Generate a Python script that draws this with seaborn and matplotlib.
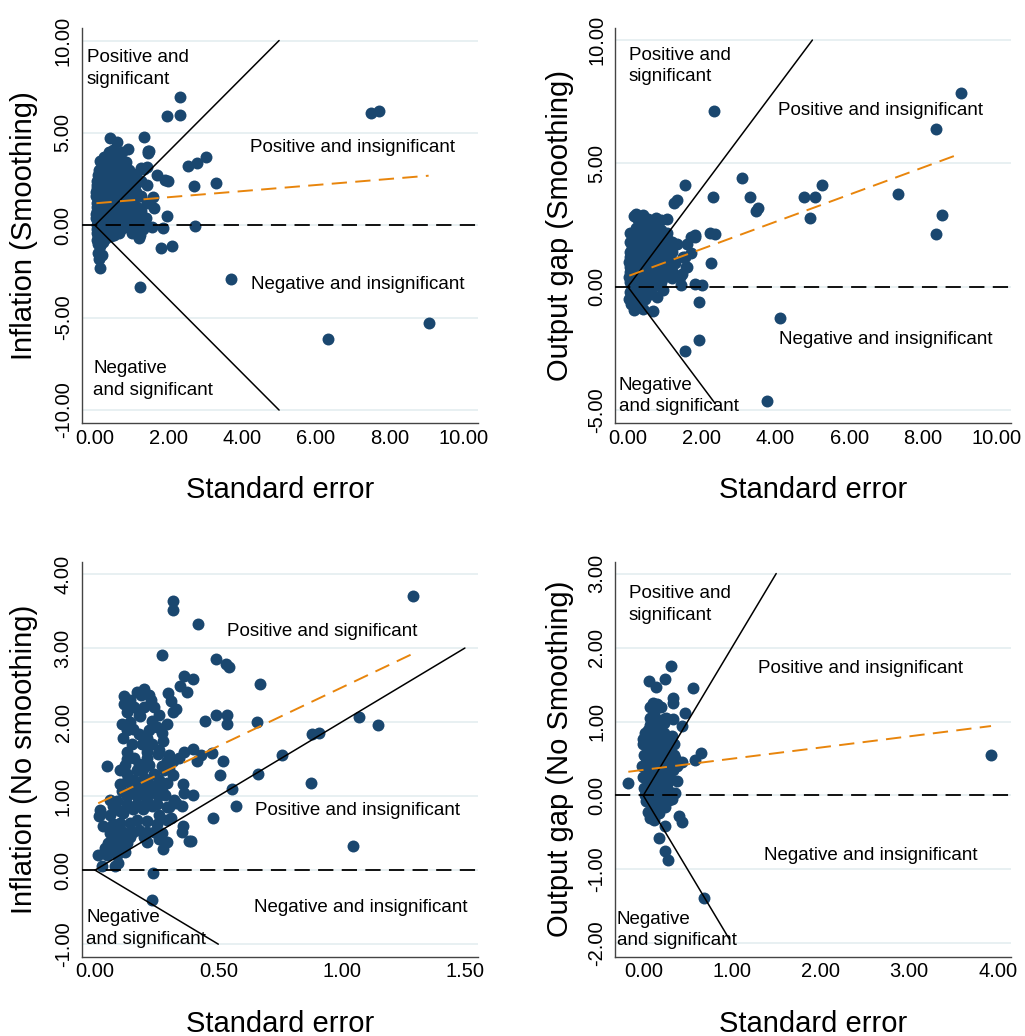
import numpy as np
import pandas as pd
import matplotlib
matplotlib.use("Agg")
import matplotlib.pyplot as plt
import seaborn as sns

sns.set_style("white")
plt.rcParams['font.family'] = ['Liberation Sans', 'DejaVu Sans']
plt.rcParams['lines.scale_dashes'] = False
plt.rcParams['text.color'] = 'black'
plt.rcParams['axes.labelcolor'] = 'black'

NAVY = '#1A476F'
ORANGE = '#E8850C'
GRIDC = '#E6EFF1'

# ---------------- data (standard error, estimate) ----------------
inflation_smoothing = [
    (2.31, 6.96), (1.95, 5.93), (2.31, 5.97), (7.50, 6.06), (7.70, 6.19), (1.34, 4.76),
    (1.47, 4.04), (1.44, 3.90), (0.91, 4.11), (0.41, 4.71), (0.59, 4.53), (3.01, 3.71),
    (2.76, 3.36), (2.54, 3.21), (3.30, 2.31), (2.70, 2.13), (1.99, 2.42), (1.90, 2.47),
    (1.68, 2.72), (1.40, 3.17), (1.58, 1.55), (1.60, 0.92), (1.95, 0.50), (1.84, -0.16),
    (2.72, -0.04), (2.08, -1.12), (1.79, -1.25), (3.69, -2.91), (1.22, -3.32), (6.32, -6.17),
    (9.06, -5.27), (0.13, -2.33), (0.11, -1.80), (1.54, -0.07), (1.30, -0.20), (1.20, -0.70),
    (1.00, -0.40), (1.32, 0.00), (1.23, -0.53), (0.07, -1.50), (0.20, -1.60), (0.15, -1.10),
    (1.45, 4.00), (0.73, 3.98), (0.37, 3.99), (1.34, 3.05),
    (0.05, 2.4), (0.06, 2.0), (0.04, 1.6), (0.05, 1.2), (0.06, 0.8), (0.04, 0.4), (0.05, 0.0),
    (0.06, -0.4), (0.05, -0.8), (0.04, 1.8), (0.06, 2.2), (0.05, 1.0), (0.04, 0.6), (0.06, -0.2),
    (0.09, 2.7), (0.08, 1.4), (0.09, 0.2), (0.08, -0.6), (0.09, -1.0),
    (0.19, 2.8), (0.21, 2.4), (0.20, 2.0), (0.18, 1.6), (0.21, 1.2), (0.19, 0.8), (0.20, 0.4),
    (0.22, 0.0), (0.19, -0.4), (0.21, -0.9), (0.20, 3.2), (0.22, 1.4),
    (0.31, 3.4), (0.29, 3.0), (0.30, 2.6), (0.32, 2.2), (0.28, 1.8), (0.31, 1.4), (0.30, 1.0),
    (0.29, 0.6), (0.32, 0.2), (0.30, -0.3), (0.31, -0.7),
    (0.42, 3.8), (0.41, 3.2), (0.43, 2.7), (0.40, 2.3), (0.42, 1.9), (0.44, 1.5), (0.41, 1.1),
    (0.43, 0.7), (0.42, 0.3), (0.40, -0.2), (0.43, -0.6),
    (0.52, 3.6), (0.51, 3.1), (0.53, 2.5), (0.52, 2.0), (0.50, 1.6), (0.53, 1.2), (0.51, 0.8),
    (0.52, 0.4), (0.54, 0.0), (0.51, -0.5),
    (0.62, 3.3), (0.61, 2.8), (0.63, 2.2), (0.62, 1.7), (0.60, 1.3), (0.63, 0.9), (0.61, 0.5),
    (0.62, 0.1), (0.64, -0.4),
    (0.72, 3.0), (0.71, 2.5), (0.73, 2.0), (0.72, 1.5), (0.70, 1.0), (0.73, 0.6), (0.71, 0.2),
    (0.72, -0.2),
    (0.82, 2.7), (0.81, 2.2), (0.83, 1.7), (0.82, 1.2), (0.80, 0.7), (0.83, 0.3), (0.81, -0.1),
    (0.92, 3.0), (0.91, 2.4), (0.93, 1.8), (0.92, 1.3), (0.90, 0.8), (0.93, 0.4),
    (1.02, 2.6), (1.01, 2.0), (1.03, 1.4), (1.02, 0.9), (1.00, 0.3), (1.03, -0.2),
    (1.12, 2.8), (1.11, 1.8), (1.13, 1.0), (1.12, 0.5), (1.10, 2.2),
    (1.25, 2.4), (1.26, 1.6), (1.24, 0.8), (1.25, 0.2), (1.26, 3.1),
    (1.40, 2.2), (1.41, 1.2), (1.39, 0.4),
    (0.12, 3.0), (0.14, 3.5), (0.25, 3.7), (0.35, 3.6), (0.48, 4.1), (0.65, 3.8),
    (0.85, 3.4), (0.12, 1.9), (0.14, 1.0), (0.13, 0.1), (0.26, 1.2), (0.36, 0.8),
]

outputgap_smoothing = [
    (9.03, 7.86), (2.33, 7.12), (8.36, 6.39), (3.10, 4.39), (1.56, 4.11), (5.26, 4.12),
    (4.78, 3.65), (5.08, 3.65), (7.32, 3.78), (2.31, 3.65), (3.30, 3.65), (3.53, 3.20),
    (3.48, 3.08), (4.93, 2.77), (8.51, 2.93), (8.36, 2.16), (2.22, 2.19), (2.37, 2.16),
    (1.81, 2.10), (2.24, 0.97), (1.81, 0.10), (2.01, 0.09), (1.92, -0.61), (4.13, -1.26),
    (1.92, -2.16), (1.56, -2.61), (3.77, -4.63), (1.26, 3.41), (1.33, 3.50), (1.56, 1.22),
    (1.60, 0.80), (1.47, 0.50), (1.43, 0.08), (1.20, 0.35), (0.96, -0.13), (0.80, -0.40),
    (0.68, -1.00), (0.40, -0.90), (0.17, -0.95), (0.75, 2.80), (1.05, 2.75), (0.82, 2.20),
    (1.10, 1.90), (1.33, 1.75), (1.60, 1.75), (1.71, 1.35), (1.28, 0.95), (0.21, 2.97),
    (0.17, 2.85), (1.72, 2.00), (1.82, 2.03), (1.50, 1.22), (1.58, 0.80), (1.23, 0.54),
    (1.40, 0.40),
    (0.05, 1.8), (0.06, 1.4), (0.04, 1.0), (0.05, 0.6), (0.06, 0.2), (0.05, -0.2), (0.04, -0.5),
    (0.06, 1.2), (0.05, 0.8), (0.04, 0.4),
    (0.15, 2.2), (0.14, 1.7), (0.16, 1.3), (0.15, 0.9), (0.13, 0.5), (0.16, 0.1), (0.15, -0.3),
    (0.14, -0.7), (0.16, 1.5), (0.15, 1.1),
    (0.30, 2.6), (0.29, 2.0), (0.31, 1.6), (0.30, 1.2), (0.28, 0.8), (0.31, 0.4), (0.30, 0.0),
    (0.29, -0.4), (0.31, -0.8), (0.30, 1.8),
    (0.45, 2.7), (0.44, 2.3), (0.46, 1.9), (0.45, 1.5), (0.43, 1.1), (0.46, 0.7), (0.45, 0.3),
    (0.44, -0.1), (0.46, -0.5),
    (0.60, 2.6), (0.59, 2.1), (0.61, 1.7), (0.60, 1.3), (0.58, 0.9), (0.61, 0.5), (0.60, 0.1),
    (0.59, -0.3),
    (0.75, 2.4), (0.74, 1.9), (0.76, 1.5), (0.75, 1.1), (0.73, 0.7), (0.76, 0.3),
    (0.90, 2.3), (0.89, 1.8), (0.91, 1.4), (0.90, 1.0), (0.88, 0.6), (0.91, 0.2),
    (1.05, 2.2), (1.04, 1.7), (1.06, 1.3), (1.05, 0.9), (1.03, 0.5),
    (1.20, 1.8), (1.19, 1.4), (1.21, 1.0), (1.20, 0.6),
    (0.10, 1.6), (0.10, 0.7), (0.10, 0.0), (0.22, 2.4), (0.22, 1.4), (0.22, 0.6), (0.22, -0.2),
    (0.37, 2.2), (0.37, 1.4), (0.37, 0.6), (0.37, -0.2), (0.52, 2.0), (0.52, 1.2), (0.52, 0.4),
    (0.52, -0.2), (0.67, 2.3), (0.67, 1.5), (0.67, 0.7), (0.67, 0.0), (0.82, 2.0), (0.82, 1.2),
    (0.82, 0.5), (0.97, 1.9), (0.97, 1.2), (0.97, 0.4), (1.12, 1.5), (1.12, 0.8), (0.05, 2.2),
    (0.08, -0.7), (0.25, 2.8), (0.40, 2.9), (0.55, 2.75), (0.90, 2.70),
]

inflation_nosmoothing = [
    (0.317, 3.64), (0.317, 3.51), (0.416, 3.33), (1.288, 3.70), (0.270, 2.91), (0.489, 2.85),
    (0.530, 2.79), (0.545, 2.74), (0.362, 2.62), (0.396, 2.58), (0.343, 2.49), (0.372, 2.40),
    (0.669, 2.51), (0.297, 2.39), (0.310, 2.28), (0.330, 2.17), (0.315, 2.13), (0.290, 1.97),
    (0.446, 2.01), (0.490, 2.09), (0.534, 2.09), (0.534, 1.98), (0.658, 2.00), (1.070, 2.07),
    (1.146, 1.96), (0.878, 1.84), (0.910, 1.85), (0.759, 1.56), (0.659, 1.30), (0.874, 1.18),
    (0.557, 1.10), (0.570, 0.86), (0.480, 0.71), (1.047, 0.33), (0.236, -0.04), (0.230, -0.41),
    (0.362, 1.60), (0.396, 1.64), (0.430, 1.55), (0.475, 1.58), (0.415, 1.47), (0.520, 1.47),
    (0.507, 1.28), (0.355, 1.17), (0.360, 1.04), (0.396, 1.02), (0.330, 0.91), (0.353, 0.86),
    (0.357, 0.60), (0.353, 0.51), (0.380, 0.40), (0.390, 0.40), (0.047, 1.41), (0.020, 0.81),
    (0.015, 0.73), (0.013, 0.20), (0.030, 0.05), (0.080, 0.05), (0.090, 0.20), (0.277, 0.29),
    (0.290, 0.38), (0.210, 0.38), (0.210, 0.52),
    (0.119, 2.35), (0.119, 2.25), (0.128, 2.14), (0.169, 2.41), (0.200, 2.45), (0.185, 2.36),
    (0.220, 2.36), (0.227, 2.30), (0.182, 2.08), (0.108, 1.98), (0.128, 1.89), (0.115, 1.78),
    (0.155, 1.91), (0.180, 1.84), (0.210, 1.78), (0.230, 2.02), (0.250, 1.93), (0.220, 1.89),
    (0.275, 1.75), (0.260, 1.62), (0.210, 1.59), (0.130, 1.60), (0.130, 1.50), (0.160, 1.52),
    (0.210, 1.52), (0.256, 1.57), (0.290, 1.48), (0.317, 1.48), (0.300, 1.37), (0.317, 1.28),
    (0.101, 1.35), (0.130, 1.30), (0.170, 1.35), (0.195, 1.37), (0.240, 1.30), (0.101, 1.17),
    (0.148, 1.13), (0.180, 1.15), (0.220, 1.17), (0.256, 1.13), (0.128, 1.00), (0.170, 1.00),
    (0.210, 1.00), (0.256, 1.00), (0.284, 1.02), (0.074, 0.86), (0.060, 0.75), (0.033, 0.60),
    (0.074, 0.62), (0.115, 0.77), (0.155, 0.82), (0.195, 0.82), (0.230, 0.86), (0.260, 0.75),
    (0.290, 0.68), (0.100, 0.64), (0.140, 0.64), (0.170, 0.68), (0.210, 0.66), (0.250, 0.62),
    (0.088, 0.50), (0.120, 0.50), (0.155, 0.52), (0.180, 0.54), (0.128, 0.36), (0.100, 0.32),
    (0.060, 0.27), (0.047, 0.20), (0.080, 0.34), (0.108, 0.43), (0.240, 0.52), (0.054, 0.36),
    (0.095, 0.10), (0.180, 2.09),
    (0.14, 2.30), (0.16, 2.20), (0.14, 2.00), (0.20, 2.20), (0.24, 2.20), (0.26, 2.10),
    (0.15, 1.70), (0.19, 1.70), (0.23, 1.70), (0.27, 1.85), (0.12, 1.42), (0.18, 1.44),
    (0.22, 1.42), (0.27, 1.40), (0.13, 1.20), (0.16, 1.22), (0.20, 1.25), (0.26, 1.22),
    (0.29, 1.18), (0.11, 1.07), (0.15, 1.07), (0.19, 1.07), (0.23, 1.07), (0.27, 1.07),
    (0.09, 0.93), (0.13, 0.90), (0.17, 0.90), (0.21, 0.93), (0.25, 0.90), (0.29, 0.85),
    (0.06, 0.50), (0.10, 0.55), (0.14, 0.45), (0.20, 0.45), (0.07, 0.42), (0.04, 0.30),
    (0.12, 0.25), (0.30, 0.85), (0.32, 0.95), (0.31, 0.70), (0.27, 0.50), (0.26, 0.42),
    (0.10, 0.80), (0.06, 0.95), (0.30, 1.55), (0.34, 1.52), (0.28, 1.35),
]

outputgap_nosmoothing = [
    (0.311, 1.75), (0.068, 1.55), (0.244, 1.57), (0.142, 1.46), (0.556, 1.45), (0.338, 1.32),
    (0.338, 1.25), (0.105, 1.25), (0.150, 1.23), (0.070, 1.20), (0.469, 1.12), (0.340, 1.04),
    (0.140, 1.03), (0.230, 1.03), (0.230, 0.98), (0.440, 0.94), (0.050, 0.89), (0.180, 0.82),
    (0.320, 0.81), (0.000, 0.76), (0.649, 0.57), (0.585, 0.48), (0.440, 0.45), (0.350, 0.55),
    (-0.169, 0.17), (0.380, 0.20), (3.925, 0.55), (0.290, -0.06), (0.360, 0.03), (0.405, -0.28),
    (0.440, -0.36), (0.240, -0.41), (0.180, -0.58), (0.240, -0.75), (0.280, -0.87), (0.680, -1.38),
    (0.030, -0.08), (0.050, -0.22), (0.070, -0.30), (0.120, -0.33), (0.180, -0.24), (0.140, -0.17),
    (0.270, 0.00),
    (0.00, 0.70), (0.01, 0.55), (-0.01, 0.40), (0.00, 0.25), (0.01, 0.10),
    (0.05, 0.80), (0.06, 0.60), (0.04, 0.45), (0.05, 0.30), (0.06, 0.15), (0.05, 0.00), (0.04, 0.65),
    (0.10, 0.85), (0.11, 0.70), (0.09, 0.50), (0.10, 0.35), (0.11, 0.20), (0.10, 0.05), (0.09, -0.10),
    (0.15, 0.75), (0.16, 0.60), (0.14, 0.40), (0.15, 0.25), (0.16, 0.10), (0.15, -0.05),
    (0.20, 0.70), (0.21, 0.55), (0.19, 0.35), (0.20, 0.20), (0.21, 0.00),
    (0.25, 0.65), (0.26, 0.45), (0.24, 0.30), (0.25, 0.15),
    (0.30, 0.60), (0.31, 0.40), (0.29, 0.25), (0.30, 0.05),
    (0.35, 0.70), (0.36, 0.50),
    (0.02, 0.85), (0.07, 0.95), (0.12, 0.95), (0.17, 0.90), (0.02, 0.00), (0.07, -0.05),
    (0.12, -0.20), (0.03, 0.50), (0.08, 0.25), (0.13, 0.55), (0.18, 0.45), (0.23, 0.85),
    (0.28, 0.75), (0.33, 0.35), (0.38, 0.40), (0.22, 0.10), (0.27, 0.15), (0.32, -0.05),
    (0.17, 0.05), (0.12, 1.10), (0.20, 1.20), (0.26, 1.05), (0.08, 1.05), (0.20, -0.10),
    (0.25, -0.15),
]

# fitted (orange dashed) line: intercept, slope
fit_intercept = [1.19, 0.43, 0.883, 0.346]
fit_slope = [0.165, 0.551, 1.583, 0.151]
# significance funnel: |estimate| = z * se
funnel_z = 2.0
funnel_upper_end = [5.0, 5.0, 1.5, 1.5]
funnel_lower_end = [5.0, 2.37, 0.5, 0.97]

ylabels = ["Inflation (Smoothing)", "Output gap (Smoothing)",
           "Inflation (No smoothing)", "Output gap (No Smoothing)"]
xlabel = "Standard error"

xticks = [[0, 2, 4, 6, 8, 10], [0, 2, 4, 6, 8, 10], [0, 0.5, 1.0, 1.5], [0, 1, 2, 3, 4]]
yticks = [[-10, -5, 0, 5, 10], [-5, 0, 5, 10], [-1, 0, 1, 2, 3, 4], [-2, -1, 0, 1, 2, 3]]
xlims = [(-0.36, 10.4), (-0.34, 10.38), (-0.054, 1.553), (-0.316, 4.15)]
ylims = [(-10.7, 10.68), (-5.52, 10.49), (-1.17, 4.166), (-2.18, 3.16)]

# region annotations (text, x, y) in data units
annotations = [
    [("Positive and\nsignificant", -0.22, 8.49), ("Positive and insignificant", 4.21, 4.2),
     ("Negative and insignificant", 4.23, -3.23), ("Negative\nand significant", -0.05, -8.35)],
    [("Positive and\nsignificant", 0.03, 8.95), ("Positive and insignificant", 4.06, 7.16),
     ("Negative and insignificant", 4.09, -2.12), ("Negative\nand significant", -0.24, -4.42)],
    [("Positive and significant", 0.536, 3.23), ("Positive and insignificant", 0.649, 0.80),
     ("Negative and insignificant", 0.645, -0.51), ("Negative\nand significant", -0.036, -0.79)],
    [("Positive and\nsignificant", -0.166, 2.58), ("Positive and insignificant", 1.30, 1.71),
     ("Negative and insignificant", 1.36, -0.81), ("Negative\nand significant", -0.30, -1.82)],
]

datasets = [inflation_smoothing, outputgap_smoothing, inflation_nosmoothing, outputgap_nosmoothing]

# ---------------- layout ----------------
fig = plt.figure(figsize=(10.25, 10.36), dpi=100)
positions = [
    [0.0797, 0.5917, 0.3866, 0.3813],
    [0.6003, 0.5917, 0.3860, 0.3813],
    [0.0797, 0.0765, 0.3866, 0.3813],
    [0.6003, 0.0765, 0.3860, 0.3813],
]
ylabel_x = [-0.110, -0.104, -0.110, -0.104]

for i in range(4):
    ax = fig.add_axes(positions[i])
    df = pd.DataFrame(datasets[i], columns=["se", "estimate"])

    ax.set_xlim(*xlims[i])
    ax.set_ylim(*ylims[i])

    for yv in yticks[i]:
        ax.axhline(yv, color=GRIDC, lw=1.3, zorder=0)

    # funnel lines
    xs_u = np.array([0.0, funnel_upper_end[i]])
    xs_l = np.array([0.0, funnel_lower_end[i]])
    sns.lineplot(x=xs_u, y=funnel_z * xs_u, ax=ax, color='black', lw=1.1, zorder=3)
    sns.lineplot(x=xs_l, y=-funnel_z * xs_l, ax=ax, color='black', lw=1.1, zorder=3)

    sns.scatterplot(data=df, x="se", y="estimate", ax=ax, color=NAVY, s=74,
                    edgecolor=NAVY, linewidth=0, zorder=2)

    # zero line
    ax.axhline(0, color='black', lw=1.3, dashes=(11, 6), zorder=3)

    # fitted line
    fx = np.array([df["se"].min(), df["se"].max()])
    ax.plot(fx, fit_intercept[i] + fit_slope[i] * fx, color=ORANGE, lw=1.4,
            dashes=(11, 6), zorder=4)

    for txt, tx, ty in annotations[i]:
        ax.text(tx, ty, txt, ha='left', va='center', fontsize=13.5, color='black',
                linespacing=1.35, zorder=5)

    ax.set_xticks(xticks[i])
    ax.set_xticklabels([f"{v:.2f}" for v in xticks[i]])
    ax.set_yticks(yticks[i])
    ax.set_yticklabels([f"{v:.2f}" for v in yticks[i]])
    plt.setp(ax.get_yticklabels(), rotation=90, va='center')

    ax.tick_params(axis='x', direction='out', length=6, width=1, color='#444444',
                   labelsize=14.5, labelcolor='black', pad=-2)
    ax.tick_params(axis='y', direction='out', length=6, width=1, color='#444444',
                   labelsize=14.5, labelcolor='black', pad=0.5)

    for side in ['top', 'right']:
        ax.spines[side].set_visible(False)
    for side in ['left', 'bottom']:
        ax.spines[side].set_color('#444444')
        ax.spines[side].set_linewidth(1.0)

    ax.set_xlabel(xlabel, fontsize=21, color='black')
    ax.set_ylabel(ylabels[i], fontsize=21, color='black')
    ax.xaxis.set_label_coords(0.5, -0.134)
    ax.yaxis.set_label_coords(ylabel_x[i], 0.5)
    ax.grid(False)

fig.savefig("out.png", dpi=100, facecolor='white')
